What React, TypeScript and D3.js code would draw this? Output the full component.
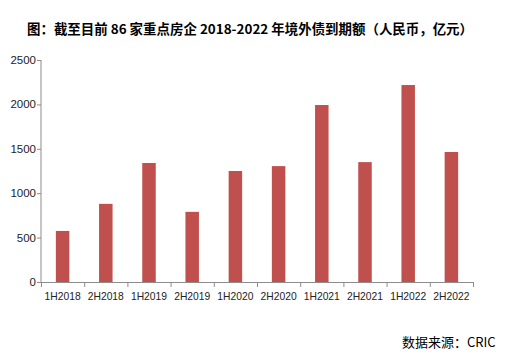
import React from "react";
import * as d3 from "d3";

const categories = ["1H2018", "2H2018", "1H2019", "2H2019", "1H2020", "2H2020", "1H2021", "2H2021", "1H2022", "2H2022"];
const values = [575, 880, 1340, 790, 1250, 1305, 1993, 1350, 2218, 1464];
const yTicks = [0, 500, 1000, 1500, 2000, 2500];
const title = "图：截至目前 86 家重点房企 2018-2022 年境外债到期额（人民币，亿元）";
const source = "数据来源：CRIC";

export default function App() {
  const W = 525, H = 355;
  const left = 41, right = 473, top = 60, bottom = 282;
  const x = d3.scaleBand<string>().domain(categories).range([left, right]).paddingInner(0).paddingOuter(0);
  const y = d3.scaleLinear().domain([0, 2500]).range([bottom, top]);
  const bw = 13.5;
  const axisColor = "#8c8c8c";
  const font = "'Noto Sans CJK SC', 'DejaVu Sans', sans-serif";
  const latin = "'Liberation Sans', Arial, sans-serif";
  const boundaries = categories.map((c) => x(c)!).concat([right]);
  return (
    <svg width={W} height={H} style={{ position: "absolute", left: 0, top: 0, background: "#fff" }} fontFamily={font}>
      <text x={27} y={34} fontSize={13.2} fontWeight="bold" fill="#000" textLength={446} lengthAdjust="spacingAndGlyphs">{title}</text>
      {categories.map((c, i) => (
        <rect key={c} x={x(c)! + x.bandwidth() / 2 - bw / 2} y={y(values[i])} width={bw} height={bottom - y(values[i])} fill="#C0504D" />
      ))}
      <line x1={left} y1={top} x2={left} y2={bottom} stroke={axisColor} strokeWidth={1} />
      <line x1={left - 4} y1={bottom + 0.5} x2={right} y2={bottom + 0.5} stroke={axisColor} strokeWidth={1} />
      {yTicks.map((t) => (
        <g key={t}>
          <line x1={left - 4} x2={left} y1={y(t) + 0.5} y2={y(t) + 0.5} stroke={axisColor} />
          <text x={36} y={y(t)} dy="0.35em" textAnchor="end" fontSize={11.5} fill="#222" fontFamily={latin}>{t}</text>
        </g>
      ))}
      {boundaries.map((b, i) => (
        <line key={i} x1={b + 0.5} x2={b + 0.5} y1={bottom} y2={bottom + 5} stroke={axisColor} />
      ))}
      {categories.map((c) => (
        <text key={c} x={x(c)! + x.bandwidth() / 2} y={296} dy="0.35em" textAnchor="middle" fontSize={10.3} fill="#222" fontFamily={latin}>{c}</text>
      ))}
      <text x={402} y={347} fontSize={13} fill="#000">{source}</text>
    </svg>
  );
}
